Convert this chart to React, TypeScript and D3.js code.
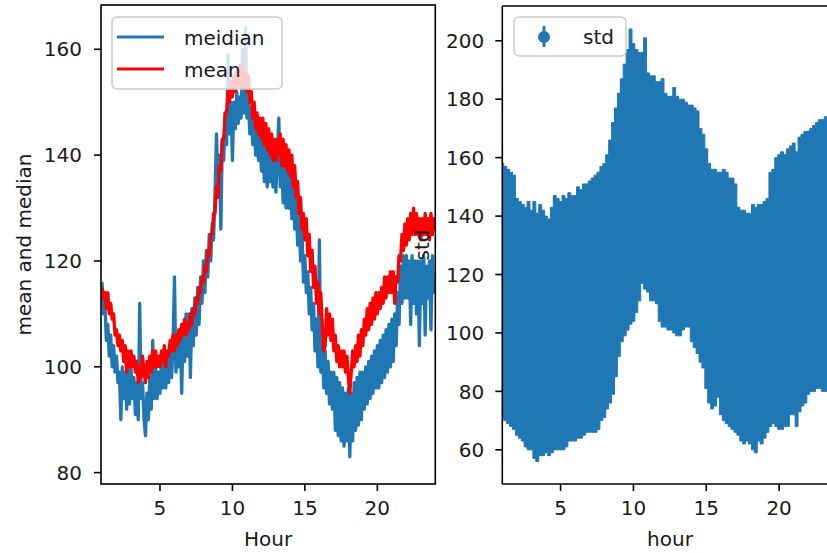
import React from "react";
import * as d3 from "d3";

// ---- data ----
const HOUR_START = 1;
const LINE_STEP = 0.1; // hours between samples of the mean / median lines
const ERR_STEP = 0.2; // hours between error bars

const meanValues = [
  115,113,114,111,114,110,112,109,110,106,
  107,104,106,103,105,101,104,99,103,100,
  103,100,102,99,101,97,100,98,102,99,
  97,101,98,102,99,103,100,103,100,102,
  100,103,101,104,100,103,102,105,103,106,
  103,106,104,107,105,108,106,109,106,108,
  107,110,108,111,110,113,112,115,114,117,
  116,119,118,122,121,125,125,129,129,134,
  132,138,137,143,143,148,148,152,150,154,
  151,155,152,156,153,157,153,157,153,156,
  152,155,150,152,147,150,145,148,144,147,
  143,147,142,146,141,145,140,144,139,143,
  139,143,140,144,138,143,138,142,137,141,
  136,140,134,138,132,135,129,132,126,129,
  124,128,121,125,118,122,115,119,112,116,
  110,114,108,103,104,111,106,110,105,109,
  103,106,101,104,100,103,100,103,99,102,
  98,95,99,103,100,104,101,106,102,107,
  104,109,106,111,107,112,108,113,109,114,
  110,114,111,115,112,117,113,117,114,118,
  114,118,112,117,116,121,120,125,122,127,
  123,128,124,129,125,130,125,129,125,128,
  124,128,125,129,125,128,124,129,125,128,
  126,
];

const medianValues = [
  116,110,112,105,108,102,106,100,104,99,
  102,97,99,90,100,94,99,92,100,93,
  100,94,98,91,97,90,112,94,97,90,
  87,95,90,98,92,105,94,100,94,99,
  95,101,96,102,96,101,97,103,98,104,
  117,99,106,100,107,95,108,101,110,102,
  110,98,111,104,113,106,115,108,117,112,
  120,114,122,117,125,120,127,124,133,144,
  134,140,126,143,139,148,142,159,144,150,
  139,150,145,152,146,151,147,160,148,164,
  147,150,144,149,142,147,140,145,139,144,
  137,143,135,142,134,141,135,140,134,139,
  133,140,147,134,139,131,138,130,137,130,
  136,128,134,126,132,123,129,120,126,116,
  121,114,118,110,115,107,112,103,109,100,
  124,99,105,96,103,95,101,93,99,92,
  99,88,98,87,97,86,96,85,95,86,
  96,83,95,86,97,88,98,89,99,90,
  99,92,100,93,101,94,102,95,103,96,
  104,96,105,97,106,98,107,99,108,100,
  109,101,110,104,114,108,119,112,121,113,
  121,113,120,108,121,112,120,110,120,104,
  120,112,121,106,119,113,120,107,121,114,
  116,
];

// top (mean + std) and bottom (mean - std) of each error bar
const errUpper = [
  158,157,156,155,154,
  146,145,144,143,145,
  142,145,141,144,142,
  140,139,143,147,146,
  145,147,146,148,147,
  147,150,149,151,151,
  152,153,154,155,157,
  158,161,166,172,177,
  182,187,192,197,204,
  199,197,196,196,201,
  189,188,188,186,186,
  187,182,181,181,184,
  181,180,180,179,178,
  178,177,176,170,168,
  163,158,156,156,155,
  155,156,155,153,153,
  151,143,142,142,141,
  141,144,143,144,144,
  145,146,155,156,160,
  161,162,161,163,164,
  165,162,167,168,169,
  169,170,171,172,173,
  173,174,174,173,174,
  174,
];

const errLower = [
  71,70,69,68,67,
  65,64,63,61,60,
  60,57,56,58,58,
  59,58,59,60,60,
  60,60,61,63,63,
  63,64,64,65,66,
  66,66,66,67,70,
  71,74,76,79,85,
  92,97,99,101,103,
  104,107,111,117,115,
  114,111,111,110,104,
  102,102,101,101,100,
  99,99,101,102,102,
  97,95,93,90,88,
  81,76,74,75,78,
  72,70,69,68,67,
  66,65,63,62,63,
  62,60,59,63,62,
  64,66,68,69,68,
  67,67,68,68,72,
  72,68,73,75,76,
  79,80,80,81,81,
  80,80,81,80,80,
  80,
];

const xTicks = [5, 10, 15, 20];
const leftYTicks = [80, 100, 120, 140, 160];
const rightYTicks = [60, 80, 100, 120, 140, 160, 180, 200];

const BLUE = "#1f77b4";
const RED = "#ff0000";
const FONT = "DejaVu Sans, sans-serif";
const FS = 20;
const TXT = "#1a1a1a";

type Pt = { x: number; y: number };

export default function App() {
  const W = 827;
  const H = 553;

  // left axes
  const L = { x0: 101, x1: 435.3, y0: 5, y1: 484 };
  const lx = d3.scaleLinear().domain([0.93, 24]).range([L.x0, L.x1]);
  const ly = d3.scaleLinear().domain([77.85, 168.37]).range([L.y1, L.y0]);

  // right axes (extends past the picture edge)
  const R = { x0: 502.3, x1: 837.4, y0: 6, y1: 484 };
  const rx = d3.scaleLinear().domain([1, 24]).range([R.x0, R.x1]);
  const ry = d3.scaleLinear().domain([48.3, 211.9]).range([R.y1, R.y0]);

  const meanPts: Pt[] = meanValues.map((v, i) => ({ x: HOUR_START + i * LINE_STEP, y: v }));
  const medPts: Pt[] = medianValues.map((v, i) => ({ x: HOUR_START + i * LINE_STEP, y: v }));
  const errPts = errUpper.map((u, i) => ({ x: HOUR_START + i * ERR_STEP, hi: u, lo: errLower[i] }));

  const lineL = d3
    .line<Pt>()
    .x((d) => lx(d.x))
    .y((d) => ly(d.y));

  const band = d3
    .area<{ x: number; hi: number; lo: number }>()
    .x((d) => rx(d.x))
    .y0((d) => ry(d.lo))
    .y1((d) => ry(d.hi))
    .curve(d3.curveStep);

  const spine = { stroke: "#000", strokeWidth: 1.6, fill: "none" } as const;

  return (
    <svg
      width={W}
      height={H}
      style={{ position: "absolute", left: 0, top: 0, background: "#fff" }}
      fontFamily={FONT}
    >
      <defs>
        <clipPath id="clipL">
          <rect x={L.x0} y={L.y0} width={L.x1 - L.x0} height={L.y1 - L.y0} />
        </clipPath>
        <clipPath id="clipR">
          <rect x={R.x0} y={R.y0} width={R.x1 - R.x0} height={R.y1 - R.y0} />
        </clipPath>
      </defs>
      <rect x={0} y={0} width={W} height={H} fill="#fff" />

      {/* ===== left axes ===== */}
      <g clipPath="url(#clipL)">
        <path d={lineL(medPts) || ""} fill="none" stroke={BLUE} strokeWidth={3.3} strokeLinejoin="round" />
        <path d={lineL(meanPts) || ""} fill="none" stroke={RED} strokeWidth={3.3} strokeLinejoin="round" />
      </g>
      {/* legend */}
      <g>
        <rect x={112} y={17} width={170} height={72} rx={5} fill="#fff" fillOpacity={0.8} stroke="#cccccc" strokeWidth={1.5} />
        <line x1={117} x2={164} y1={37} y2={37} stroke={BLUE} strokeWidth={3} />
        <line x1={117} x2={164} y1={69} y2={69} stroke={RED} strokeWidth={3} />
        <text x={184} y={45} fontSize={FS} fill={TXT}>meidian</text>
        <text x={184} y={77} fontSize={FS} fill={TXT}>mean</text>
      </g>
      <rect x={L.x0} y={L.y0} width={L.x1 - L.x0} height={L.y1 - L.y0} {...spine} />
      {xTicks.map((t) => (
        <g key={"lx" + t}>
          <line x1={lx(t)} x2={lx(t)} y1={L.y1} y2={L.y1 + 7} stroke="#000" strokeWidth={1.6} />
          <text x={lx(t)} y={L.y1 + 31} fontSize={FS} textAnchor="middle" fill={TXT}>{t}</text>
        </g>
      ))}
      {leftYTicks.map((t) => (
        <g key={"ly" + t}>
          <line x1={L.x0 - 7} x2={L.x0} y1={ly(t)} y2={ly(t)} stroke="#000" strokeWidth={1.6} />
          <text x={L.x0 - 19} y={ly(t)} dy="0.36em" fontSize={FS} textAnchor="end" fill={TXT}>{t}</text>
        </g>
      ))}
      <text x={(L.x0 + L.x1) / 2} y={546} fontSize={FS} textAnchor="middle" fill={TXT}>Hour</text>
      <text
        transform={`translate(31,${(L.y0 + L.y1) / 2}) rotate(-90)`}
        fontSize={FS}
        textAnchor="middle"
        fill={TXT}
      >
        mean and median
      </text>

      {/* ===== right axes ===== */}
      <g clipPath="url(#clipR)">
        <path d={band(errPts) || ""} fill={BLUE} stroke={BLUE} strokeWidth={1} />
      </g>
      <g>
        <rect x={514} y={17} width={112} height={39} rx={5} fill="#fff" fillOpacity={0.8} stroke="#cccccc" strokeWidth={1.5} />
        <line x1={544} x2={544} y1={26} y2={47} stroke={BLUE} strokeWidth={3} />
        <circle cx={544} cy={37} r={6} fill={BLUE} />
        <text x={583} y={44} fontSize={FS} fill={TXT}>std</text>
      </g>
      <line x1={R.x0} x2={R.x0} y1={R.y0} y2={R.y1} {...spine} />
      <line x1={R.x0} x2={R.x1} y1={R.y0} y2={R.y0} {...spine} />
      <line x1={R.x0} x2={R.x1} y1={R.y1} y2={R.y1} {...spine} />
      {xTicks.map((t) => (
        <g key={"rx" + t}>
          <line x1={rx(t)} x2={rx(t)} y1={R.y1} y2={R.y1 + 7} stroke="#000" strokeWidth={1.6} />
          <text x={rx(t)} y={R.y1 + 31} fontSize={FS} textAnchor="middle" fill={TXT}>{t}</text>
        </g>
      ))}
      {rightYTicks.map((t) => (
        <g key={"ry" + t}>
          <line x1={R.x0 - 7} x2={R.x0} y1={ry(t)} y2={ry(t)} stroke="#000" strokeWidth={1.6} />
          <text x={R.x0 - 18} y={ry(t)} dy="0.36em" fontSize={FS} textAnchor="end" fill={TXT}>{t}</text>
        </g>
      ))}
      <text x={670} y={546} fontSize={FS} textAnchor="middle" fill={TXT}>hour</text>
      <text
        transform={`translate(429,${(R.y0 + R.y1) / 2}) rotate(-90)`}
        fontSize={FS}
        textAnchor="middle"
        fill={TXT}
      >
        std
      </text>
    </svg>
  );
}
